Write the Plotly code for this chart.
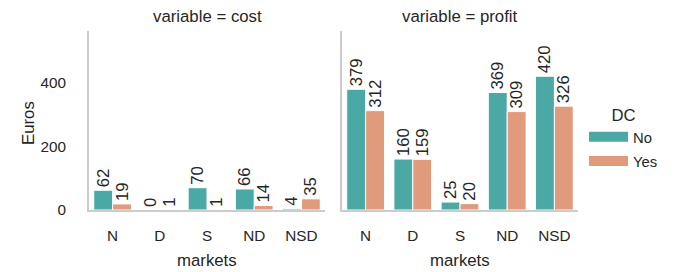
import plotly.graph_objects as go

markets = ["N", "D", "S", "ND", "NSD"]
panels = ["cost", "profit"]
dc_levels = ["No", "Yes"]
cost_no = [62, 0, 70, 66, 4]
cost_yes = [19, 1, 1, 14, 35]
profit_no = [379, 160, 25, 369, 420]
profit_yes = [312, 159, 20, 309, 326]
y_ticks = [0, 200, 400]

colors = {"No": "#4ba9a5", "Yes": "#df9b7b"}
data = {
    ("cost", "No"): cost_no, ("cost", "Yes"): cost_yes,
    ("profit", "No"): profit_no, ("profit", "Yes"): profit_yes,
}

W, H = 685, 272
FONT = "Liberation Sans, Arial, sans-serif"
TXT = "#262626"
fig = go.Figure()

axes = [("x", "y"), ("x2", "y2")]
for (xa, ya), panel in zip(axes, panels):
    for dc in dc_levels:
        vals = data[(panel, dc)]
        fig.add_trace(go.Bar(
            x=markets, y=vals, xaxis=xa, yaxis=ya,
            name=dc, showlegend=False, offsetgroup=dc,
            marker=dict(color=colors[dc], line=dict(color="white", width=1)),
            text=[str(v) for v in vals], textposition="outside",
            textangle=-90, constraintext="none", cliponaxis=False,
            textfont=dict(family=FONT, size=16.7, color=TXT),
        ))

for dc in dc_levels:
    fig.add_trace(go.Scatter(
        x=[None], y=[None], mode="lines", name=dc, legendgroup=dc,
        line=dict(color=colors[dc], width=10), showlegend=True,
    ))

def px_x(p):
    return p / W

def px_y(p):
    return 1 - p / H

left_dom = [px_x(89), px_x(325)]
right_dom = [px_x(342), px_x(578)]
y_dom = [px_y(210), px_y(31)]

common_x = dict(
    range=[-0.5, 4.5], showgrid=False, zeroline=False, showline=True,
    linecolor="#cccccc", linewidth=2, ticks="outside", ticklen=11,
    tickcolor="rgba(0,0,0,0)", tickfont=dict(family=FONT, size=15.3, color=TXT),
    fixedrange=True, automargin=False, type="category",
)
common_y = dict(
    range=[0, 562], showgrid=False, zeroline=False, showline=True,
    linecolor="#cccccc", linewidth=2, ticks="outside", ticklen=18,
    tickcolor="rgba(0,0,0,0)", tickfont=dict(family=FONT, size=15.3, color=TXT),
    tickvals=y_ticks, automargin=False, fixedrange=True,
)

LBL = dict(family=FONT, size=16.8, color=TXT)
fig.update_layout(
    width=W, height=H,
    margin=dict(l=0, r=0, t=0, b=0),
    paper_bgcolor="white", plot_bgcolor="white",
    barmode="group", bargap=0.2, bargroupgap=0,
    font=dict(family=FONT, size=15.3, color=TXT),
    xaxis=dict(domain=left_dom, anchor="y", **common_x),
    xaxis2=dict(domain=right_dom, anchor="y2", **common_x),
    yaxis=dict(domain=y_dom, anchor="x", **common_y),
    yaxis2=dict(domain=y_dom, anchor="x2", showticklabels=False, matches="y", **common_y),
    legend=dict(
        x=px_x(584), y=px_y(99), xanchor="left", yanchor="top",
        title=dict(text="DC", side="top center", font=dict(family=FONT, size=16.7, color=TXT)),
        font=dict(family=FONT, size=14.8, color=TXT),
        bgcolor="rgba(0,0,0,0)", tracegroupgap=2, itemwidth=39,
    ),
    annotations=[
        dict(text="variable = cost", x=sum(left_dom) / 2, y=px_y(16), xref="paper", yref="paper",
             xanchor="center", yanchor="middle", showarrow=False, font=LBL),
        dict(text="variable = profit", x=sum(right_dom) / 2, y=px_y(16), xref="paper", yref="paper",
             xanchor="center", yanchor="middle", showarrow=False, font=LBL),
        dict(text="markets", x=sum(left_dom) / 2, y=px_y(260), xref="paper", yref="paper",
             xanchor="center", yanchor="middle", showarrow=False, font=LBL),
        dict(text="markets", x=sum(right_dom) / 2, y=px_y(260), xref="paper", yref="paper",
             xanchor="center", yanchor="middle", showarrow=False, font=LBL),
        dict(text="Euros", x=px_x(29), y=px_y(123), xref="paper", yref="paper", textangle=-90,
             xanchor="center", yanchor="middle", showarrow=False, font=LBL),
    ],
)

fig.write_html(
    "out.html",
    config={"displayModeBar": False},
    post_script="document.body.style.margin='0';document.body.style.padding='0';",
)
